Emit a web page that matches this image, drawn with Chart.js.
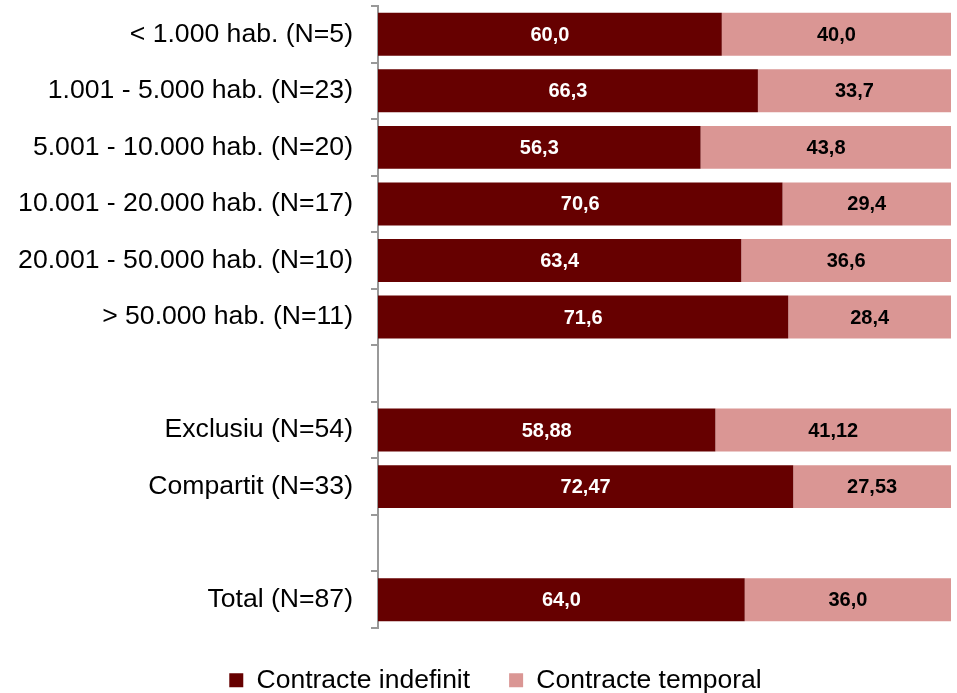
<!DOCTYPE html>
<html>
<head>
<meta charset="utf-8">
<script src="https://cdn.jsdelivr.net/npm/chart.js@4.4.1/dist/chart.umd.min.js"></script>
<style>
html,body{margin:0;padding:0;background:#fff;}
#wrap{width:957px;height:693px;}
</style>
</head>
<body>
<div id="wrap"><canvas id="c" width="957" height="693"></canvas></div>
<script>
const categories = [
  '< 1.000 hab. (N=5)',
  '1.001 - 5.000 hab. (N=23)',
  '5.001 - 10.000 hab. (N=20)',
  '10.001 - 20.000 hab. (N=17)',
  '20.001 - 50.000 hab. (N=10)',
  '> 50.000 hab. (N=11)',
  '',
  'Exclusiu (N=54)',
  'Compartit (N=33)',
  '',
  'Total (N=87)'
];
const indefinit = [60.0, 66.3, 56.3, 70.6, 63.4, 71.6, null, 58.88, 72.47, null, 64.0];
const temporal  = [40.0, 33.7, 43.8, 29.4, 36.6, 28.4, null, 41.12, 27.53, null, 36.0];
const decimals  = [1, 1, 1, 1, 1, 1, null, 2, 2, null, 1];
const seriesNames = ['Contracte indefinit', 'Contracte temporal'];

const FONT = "'Liberation Sans', Arial, sans-serif";

const valueLabels = {
  id: 'valueLabels',
  afterDatasetsDraw(chart) {
    const ctx = chart.ctx;
    ctx.save();
    ctx.font = 'bold 20px ' + FONT;
    ctx.textAlign = 'center';
    ctx.textBaseline = 'middle';
    chart.data.datasets.forEach((ds, di) => {
      const meta = chart.getDatasetMeta(di);
      meta.data.forEach((bar, i) => {
        const v = ds.data[i];
        if (v === null || v === undefined) return;
        const cx = (bar.x + bar.base) / 2;
        ctx.fillStyle = di === 0 ? '#ffffff' : '#000000';
        ctx.fillText(v.toFixed(decimals[i]).replace('.', ','), cx, bar.y + 1);
      });
    });
    ctx.restore();
  }
};

const legendShift = {
  id: 'legendShift',
  afterLayout(chart) {
    if (chart.legend) { chart.legend.left += 40; }
  }
};

new Chart(document.getElementById('c'), {
  type: 'bar',
  data: {
    labels: categories,
    datasets: [
      { label: seriesNames[0], data: indefinit, backgroundColor: '#660000', categoryPercentage: 1, barPercentage: 0.76 },
      { label: seriesNames[1], data: temporal, backgroundColor: '#DA9694', categoryPercentage: 1, barPercentage: 0.76 }
    ]
  },
  options: {
    indexAxis: 'y',
    responsive: false,
    animation: false,
    layout: { padding: { left: 0, right: 6, top: 6, bottom: 0 } },
    scales: {
      x: { stacked: true, min: 0, max: 100, display: false },
      y: {
        stacked: true,
        afterFit(s) { s.width = 378; s.paddingTop = 0; s.paddingBottom = 0; },
        grid: { drawOnChartArea: false, drawTicks: true, tickLength: 7, color: '#999999', lineWidth: 2, offset: true },
        border: { display: true, color: '#999999', width: 2 },
        ticks: { color: '#000000', font: { family: FONT, size: 26.6 }, padding: 18, autoSkip: false }
      }
    },
    plugins: {
      legend: {
        position: 'bottom',
        maxHeight: 65,
        labels: { boxWidth: 14, boxHeight: 14, padding: 39, color: '#000000', font: { family: FONT, size: 26.5 } }
      },
      tooltip: { enabled: false }
    }
  },
  plugins: [valueLabels, legendShift]
});
</script>
</body>
</html>
